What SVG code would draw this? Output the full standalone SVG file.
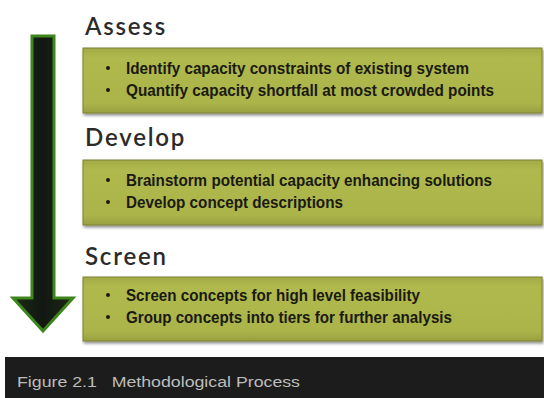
<svg xmlns="http://www.w3.org/2000/svg" width="544" height="398" viewBox="0 0 544 398">
  <defs>
    <linearGradient id="boxFill" x1="0" y1="0" x2="0" y2="1">
      <stop offset="0" stop-color="#a2aa44"/>
      <stop offset="0.15" stop-color="#b0b94d"/>
      <stop offset="0.85" stop-color="#abb44a"/>
      <stop offset="1" stop-color="#989f40"/>
    </linearGradient>
    <linearGradient id="arrowFill" x1="0" y1="0" x2="1" y2="0">
      <stop offset="0" stop-color="#1a2a14"/>
      <stop offset="0.5" stop-color="#121712"/>
      <stop offset="1" stop-color="#1a2a14"/>
    </linearGradient>
    <filter id="shadow" x="-5%" y="-20%" width="110%" height="150%">
      <feGaussianBlur in="SourceAlpha" stdDeviation="1.5"/>
      <feOffset dx="1" dy="2" result="b"/>
      <feComponentTransfer><feFuncA type="linear" slope="0.45"/></feComponentTransfer>
      <feMerge><feMergeNode/><feMergeNode in="SourceGraphic"/></feMerge>
    </filter>
  </defs>
  <style>
    .box { fill: url(#boxFill); stroke: #7c8134; stroke-width: 1; filter: url(#shadow); }
    .head { font-family: Lato, "Open Sans", "DejaVu Sans", sans-serif; font-weight: 600; font-size: 24px; fill: #2b2b2b; letter-spacing: 1.8px; }
    .item { font-family: "Liberation Sans", Arial, sans-serif; font-weight: bold; font-size: 17px; fill: #1a1a10; }
    .bullet { fill: #1a1a10; }
    .caption { font-family: "Liberation Sans", Arial, sans-serif; font-size: 14px; fill: #bdbdbd; }
  </style>

  <rect width="544" height="398" fill="#ffffff"/>

  <!-- process arrow -->
  <g id="connectors">
    <polygon points="32,36 54,36 54,298 73,298 43,331 13,298 32,298" fill="url(#arrowFill)" stroke="#3d851c" stroke-width="3" stroke-linejoin="miter"/>
  </g>

  <!-- step 1 -->
  <g id="assess">
    <text class="head" x="85" y="35">Assess</text>
    <rect class="box" x="83" y="48" width="459" height="65"/>
    <circle class="bullet" cx="108" cy="68" r="2"/>
    <circle class="bullet" cx="108" cy="90" r="2"/>
    <text class="item" x="126" y="74" textLength="343" lengthAdjust="spacingAndGlyphs">Identify capacity constraints of existing system</text>
    <text class="item" x="126" y="96" textLength="368" lengthAdjust="spacingAndGlyphs">Quantify capacity shortfall at most crowded points</text>
  </g>

  <!-- step 2 -->
  <g id="develop">
    <text class="head" x="85" y="146">Develop</text>
    <rect class="box" x="83" y="160" width="459" height="65"/>
    <circle class="bullet" cx="108" cy="180" r="2"/>
    <circle class="bullet" cx="108" cy="202" r="2"/>
    <text class="item" x="126" y="186" textLength="366" lengthAdjust="spacingAndGlyphs">Brainstorm potential capacity enhancing solutions</text>
    <text class="item" x="126" y="208" textLength="217" lengthAdjust="spacingAndGlyphs">Develop concept descriptions</text>
  </g>

  <!-- step 3 -->
  <g id="screen">
    <text class="head" x="85" y="265">Screen</text>
    <rect class="box" x="83" y="277" width="459" height="64"/>
    <circle class="bullet" cx="108" cy="295" r="2"/>
    <circle class="bullet" cx="108" cy="317" r="2"/>
    <text class="item" x="126" y="301" textLength="294" lengthAdjust="spacingAndGlyphs">Screen concepts for high level feasibility</text>
    <text class="item" x="126" y="323" textLength="326" lengthAdjust="spacingAndGlyphs">Group concepts into tiers for further analysis</text>
  </g>

  <!-- caption bar -->
  <g id="caption">
    <rect x="5" y="357" width="539" height="41" fill="#1c1c1c"/>
    <text class="caption" x="17" y="387" textLength="283" lengthAdjust="spacingAndGlyphs" xml:space="preserve">Figure 2.1   Methodological Process</text>
  </g>
</svg>
